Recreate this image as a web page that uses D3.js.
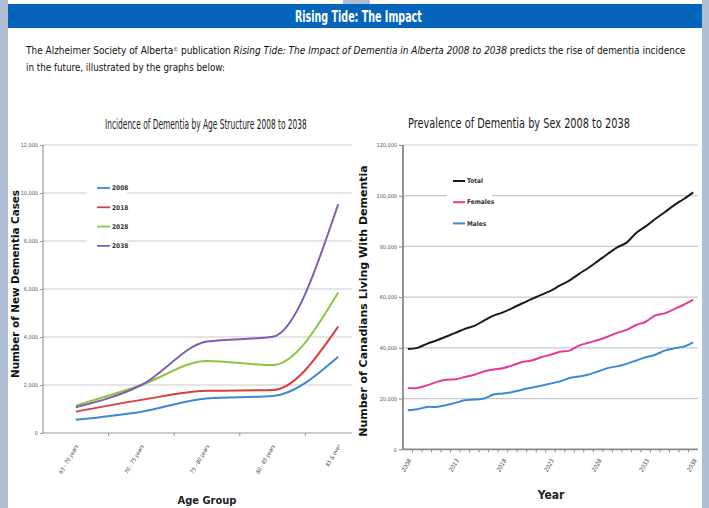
<!DOCTYPE html>
<html>
<head>
<meta charset="utf-8">
<script src="https://cdn.jsdelivr.net/npm/d3@7"></script>
<style>
  body { margin: 0; background: #fff; }
  svg { display: block; }
</style>
</head>
<body>
<svg id="page" width="709" height="508"></svg>
<script>
// ---- data ----
const ageGroups = ['65 - 70 years', '70 - 75 years', '75 - 80 years', '80 - 85 years', '85 & over']
const incidence2008 = [550, 890, 1440, 1540, 3180]
const incidence2018 = [890, 1380, 1760, 1790, 4430]
const incidence2028 = [1140, 2000, 3000, 2830, 5850]
const incidence2038 = [1070, 2000, 3810, 4010, 9530]
const incidenceTicks = [0, 2000, 4000, 6000, 8000, 10000, 12000]

const years = [2008, 2009, 2010, 2011, 2012, 2013, 2014, 2015, 2016, 2017, 2018,
  2019, 2020, 2021, 2022, 2023, 2024, 2025, 2026, 2027, 2028,
  2029, 2030, 2031, 2032, 2033, 2034, 2035, 2036, 2037, 2038]
const totalCases = [39600, 40000, 41600, 42900, 44400, 45900, 47500, 48700, 50700, 52700, 54000,
  55700, 57500, 59200, 60900, 62500, 64600, 66600, 69200, 71600, 74300,
  77000, 79600, 81500, 85300, 87900, 90800, 93500, 96300, 98700, 101300]
const femaleCases = [24200, 24200, 25200, 26500, 27400, 27600, 28500, 29400, 30700, 31500, 32000,
  33100, 34400, 35000, 36300, 37300, 38500, 38900, 40900, 42000, 43100,
  44400, 45900, 47100, 49000, 50300, 52800, 53600, 55300, 57000, 59000]
const maleCases = [15400, 15800, 16700, 16700, 17400, 18300, 19300, 19600, 20000, 21600, 22000,
  22600, 23500, 24300, 25100, 25900, 26800, 28100, 28700, 29500, 30700,
  32000, 32700, 33700, 35000, 36300, 37300, 38900, 39800, 40500, 42200]
const yearLabels = [2008, 2013, 2018, 2023, 2028, 2033, 2038]
const prevalenceTicks = [0, 20000, 40000, 60000, 80000, 100000, 120000]

const NARROW = '"Liberation Sans Narrow", "DejaVu Sans Condensed", "Liberation Sans", sans-serif'
const WIDE = '"DejaVu Sans", Verdana, sans-serif'
const fmt = d3.format(',')

const svg = d3.select('#page')

// shrink/grow a text's font so it spans the given width
function fitWidth(sel, width, size) {
  const len = sel.node().getComputedTextLength()
  sel.attr('font-size', (size * width) / len)
}

// keep the font height, squeeze the text horizontally to the given width
function squeeze(sel, x, y, width) {
  const len = sel.node().getComputedTextLength()
  sel.attr('x', 0).attr('y', 0)
    .attr('transform', `translate(${x},${y}) scale(${width / len},1)`)
}

// ---- page frame & header ----
svg.append('rect').attr('x', 0).attr('y', 0).attr('width', 709).attr('height', 508).attr('fill', '#fff')
svg.append('rect').attr('x', 0).attr('y', 0).attr('width', 8).attr('height', 508).attr('fill', '#aebfd3')
svg.append('rect').attr('x', 702).attr('y', 0).attr('width', 7).attr('height', 508).attr('fill', '#aebfd3')
svg.append('rect').attr('x', 343).attr('y', 0).attr('width', 27).attr('height', 4).attr('fill', '#aebfd3')
svg.append('rect').attr('x', 8).attr('y', 4).attr('width', 694).attr('height', 24).attr('fill', '#0565ba')
const header = svg.append('text')
  .attr('font-family', NARROW).attr('font-weight', 'bold').attr('font-size', 16)
  .attr('fill', '#fff')
  .text('Rising Tide: The Impact')
squeeze(header, 295, 22, 127)

const para1 = svg.append('text')
  .attr('x', 26).attr('y', 54)
  .attr('font-family', NARROW).attr('font-size', 12.5)
  .attr('fill', '#111')
para1.append('tspan').text('The Alzheimer Society of Alberta')
para1.append('tspan').attr('font-size', '0.55em').attr('baseline-shift', 'super').text('©')
para1.append('tspan').text(' publication ')
para1.append('tspan').attr('font-style', 'italic').text('Rising Tide: The Impact of Dementia in Alberta 2008 to 2038')
para1.append('tspan').text(' predicts the rise of dementia incidence')
fitWidth(para1, 660, 12.5)

const para2 = svg.append('text')
  .attr('x', 26).attr('y', 71)
  .attr('font-family', NARROW).attr('font-size', 12.5)
  .attr('fill', '#111')
  .text('in the future, illustrated by the graphs below:')
fitWidth(para2, 199, 12.5)

// ---- left chart: incidence by age group ----
const L = { left: 43, right: 352, top: 145, bottom: 433 }
const xAge = d3.scaleBand().domain(ageGroups).range([L.left, 371])
const yInc = d3.scaleLinear().domain([0, 12000]).range([L.bottom, L.top])

const left = svg.append('g')

const leftTitle = left.append('text')
  .attr('font-family', NARROW).attr('font-size', 13.5)
  .attr('fill', '#1a1a1a')
  .text('Incidence of Dementia by Age Structure  2008 to 2038')
squeeze(leftTitle, 105, 129, 202)

left.append('g')
  .selectAll('line')
  .data(incidenceTicks.slice(1))
  .join('line')
  .attr('x1', L.left).attr('x2', L.right)
  .attr('y1', (d) => yInc(d)).attr('y2', (d) => yInc(d))
  .attr('stroke', '#c9c9c9').attr('stroke-width', 1.2)

left.append('g')
  .attr('transform', `translate(${L.left},0)`)
  .call(d3.axisLeft(yInc).tickValues(incidenceTicks).tickSize(3).tickFormat(fmt))
  .call((g) => g.select('.domain').remove())
  .call((g) => g.selectAll('.tick line').attr('stroke', '#999'))
  .call((g) => g.selectAll('.tick text')
    .attr('x', -5)
    .style('font', `5.5px ${NARROW}`).attr('fill', '#555'))

// axis lines
left.append('line')
  .attr('x1', L.left).attr('x2', L.left).attr('y1', L.top).attr('y2', L.bottom)
  .attr('stroke', '#999').attr('stroke-width', 1.2)
left.append('line')
  .attr('x1', L.left).attr('x2', L.right).attr('y1', L.bottom).attr('y2', L.bottom)
  .attr('stroke', '#999').attr('stroke-width', 1.2)

// ticks between categories
left.append('g')
  .selectAll('line')
  .data(ageGroups.slice(1))
  .join('line')
  .attr('x1', (d) => xAge(d)).attr('x2', (d) => xAge(d))
  .attr('y1', L.bottom).attr('y2', L.bottom + 3)
  .attr('stroke', '#999')

left.append('g')
  .selectAll('text')
  .data(ageGroups)
  .join('text')
  .attr('transform', (d) => `translate(${xAge(d) + xAge.bandwidth() / 2 + 1},${L.bottom + 12}) rotate(-60)`)
  .attr('text-anchor', 'end')
  .attr('dy', '0.35em')
  .style('font', `italic 5.5px ${NARROW}`)
  .attr('fill', '#444')
  .text((d) => d)

left.append('text')
  .attr('x', 207).attr('y', 504)
  .attr('text-anchor', 'middle')
  .style('font', `bold 11px ${NARROW}`)
  .attr('fill', '#222')
  .text('Age Group')

const leftYLabel = left.append('text')
  .attr('transform', 'translate(15,284) rotate(-90)')
  .attr('text-anchor', 'middle')
  .attr('dy', '0.35em')
  .attr('font-family', WIDE).attr('font-weight', 'bold').attr('font-size', 9.5)
  .attr('fill', '#111')
  .text('Number of New Dementia Cases')
fitWidth(leftYLabel, 188, 9.5)

const incidenceSeries = [
  { name: '2008', values: incidence2008, color: '#3f87d4' },
  { name: '2018', values: incidence2018, color: '#d8403c' },
  { name: '2028', values: incidence2028, color: '#8dc63f' },
  { name: '2038', values: incidence2038, color: '#7e5db3' },
]

const ageLine = d3.line()
  .x((d, i) => xAge(ageGroups[i]) + xAge.bandwidth() / 2)
  .y((d) => yInc(d))
  .curve(d3.curveMonotoneX)

left.append('g')
  .selectAll('path')
  .data(incidenceSeries)
  .join('path')
  .attr('d', (s) => ageLine(s.values))
  .attr('fill', 'none')
  .attr('stroke', (s) => s.color)
  .attr('stroke-width', 2)

// legend (white box hides the grid behind it)
left.append('rect').attr('x', 87).attr('y', 180).attr('width', 40).attr('height', 74).attr('fill', '#fff')
const legL = left.append('g')
  .selectAll('g')
  .data(incidenceSeries)
  .join('g')
  .attr('transform', (d, i) => `translate(97,${188 + i * 19.3})`)
legL.append('line').attr('x1', 0).attr('x2', 13)
  .attr('stroke', (d) => d.color).attr('stroke-width', 1.8)
legL.append('text').attr('x', 15).attr('dy', '0.35em')
  .style('font', `bold 6.5px ${NARROW}`).attr('fill', '#333')
  .text((d) => d.name)

// ---- right chart: prevalence by sex ----
const R = { left: 403, right: 698, top: 145, bottom: 449.3 }
const xYear = d3.scaleLinear().domain([2007.5, 2038.5]).range([R.left, R.right])
const yPrev = d3.scaleLinear().domain([0, 120000]).range([R.bottom, R.top])

const right = svg.append('g')

const rightTitle = right.append('text')
  .attr('font-family', NARROW).attr('font-size', 13.5)
  .attr('fill', '#1a1a1a')
  .text('Prevalence of Dementia by Sex 2008 to 2038')
squeeze(rightTitle, 408, 128, 222)

right.append('g')
  .selectAll('line')
  .data(prevalenceTicks.slice(1))
  .join('line')
  .attr('x1', R.left).attr('x2', R.right)
  .attr('y1', (d) => yPrev(d)).attr('y2', (d) => yPrev(d))
  .attr('stroke', '#c9c9c9').attr('stroke-width', 1.2)

right.append('g')
  .attr('transform', `translate(${R.left},0)`)
  .call(d3.axisLeft(yPrev).tickValues(prevalenceTicks).tickSize(4).tickFormat(fmt))
  .call((g) => g.select('.domain').remove())
  .call((g) => g.selectAll('.tick line').attr('stroke', '#888'))
  .call((g) => g.selectAll('.tick text')
    .attr('x', -6)
    .style('font', `5.5px ${NARROW}`).attr('fill', '#555'))

right.append('line')
  .attr('x1', R.left).attr('x2', R.left).attr('y1', R.top).attr('y2', R.bottom)
  .attr('stroke', '#888').attr('stroke-width', 1.8)
right.append('line')
  .attr('x1', R.left).attr('x2', R.right).attr('y1', R.bottom).attr('y2', R.bottom)
  .attr('stroke', '#888').attr('stroke-width', 1.8)

// one tick per year boundary
right.append('g')
  .selectAll('line')
  .data(years.slice(1))
  .join('line')
  .attr('x1', (d) => xYear(d - 0.5)).attr('x2', (d) => xYear(d - 0.5))
  .attr('y1', R.bottom).attr('y2', R.bottom + 3)
  .attr('stroke', '#888')

right.append('g')
  .selectAll('text')
  .data(yearLabels)
  .join('text')
  .attr('transform', (d) => `translate(${xYear(d) + 2},${R.bottom + 10}) rotate(-60)`)
  .attr('text-anchor', 'end')
  .attr('dy', '0.35em')
  .style('font', `italic 6px ${NARROW}`)
  .attr('fill', '#444')
  .text((d) => d)

right.append('text')
  .attr('x', 551).attr('y', 499)
  .attr('text-anchor', 'middle')
  .style('font', `bold 12px ${NARROW}`)
  .attr('fill', '#222')
  .text('Year')

const rightYLabel = right.append('text')
  .attr('transform', 'translate(363,301) rotate(-90)')
  .attr('text-anchor', 'middle')
  .attr('dy', '0.35em')
  .attr('font-family', WIDE).attr('font-weight', 'bold').attr('font-size', 10)
  .attr('fill', '#111')
  .text('Number of Canadians Living With Dementia')
fitWidth(rightYLabel, 272, 10)

const prevalenceSeries = [
  { name: 'Total', values: totalCases, color: '#1a1a1a' },
  { name: 'Females', values: femaleCases, color: '#e8389b' },
  { name: 'Males', values: maleCases, color: '#3b8ad9' },
]

const yearLine = d3.line()
  .x((d, i) => xYear(years[i]))
  .y((d) => yPrev(d))
  .curve(d3.curveCardinal.tension(0))

right.append('g')
  .selectAll('path')
  .data(prevalenceSeries)
  .join('path')
  .attr('d', (s) => yearLine(s.values))
  .attr('fill', 'none')
  .attr('stroke', (s) => s.color)
  .attr('stroke-width', 2)

right.append('rect').attr('x', 447).attr('y', 172).attr('width', 45).attr('height', 60).attr('fill', '#fff')
const legR = right.append('g')
  .selectAll('g')
  .data(prevalenceSeries)
  .join('g')
  .attr('transform', (d, i) => `translate(453,${181 + i * 21.2})`)
legR.append('line').attr('x1', 0).attr('x2', 12)
  .attr('stroke', (d) => d.color).attr('stroke-width', 2)
legR.append('text').attr('x', 14).attr('dy', '0.35em')
  .style('font', `bold 6.5px ${NARROW}`).attr('fill', '#333')
  .text((d) => d.name)
</script>
</body>
</html>
